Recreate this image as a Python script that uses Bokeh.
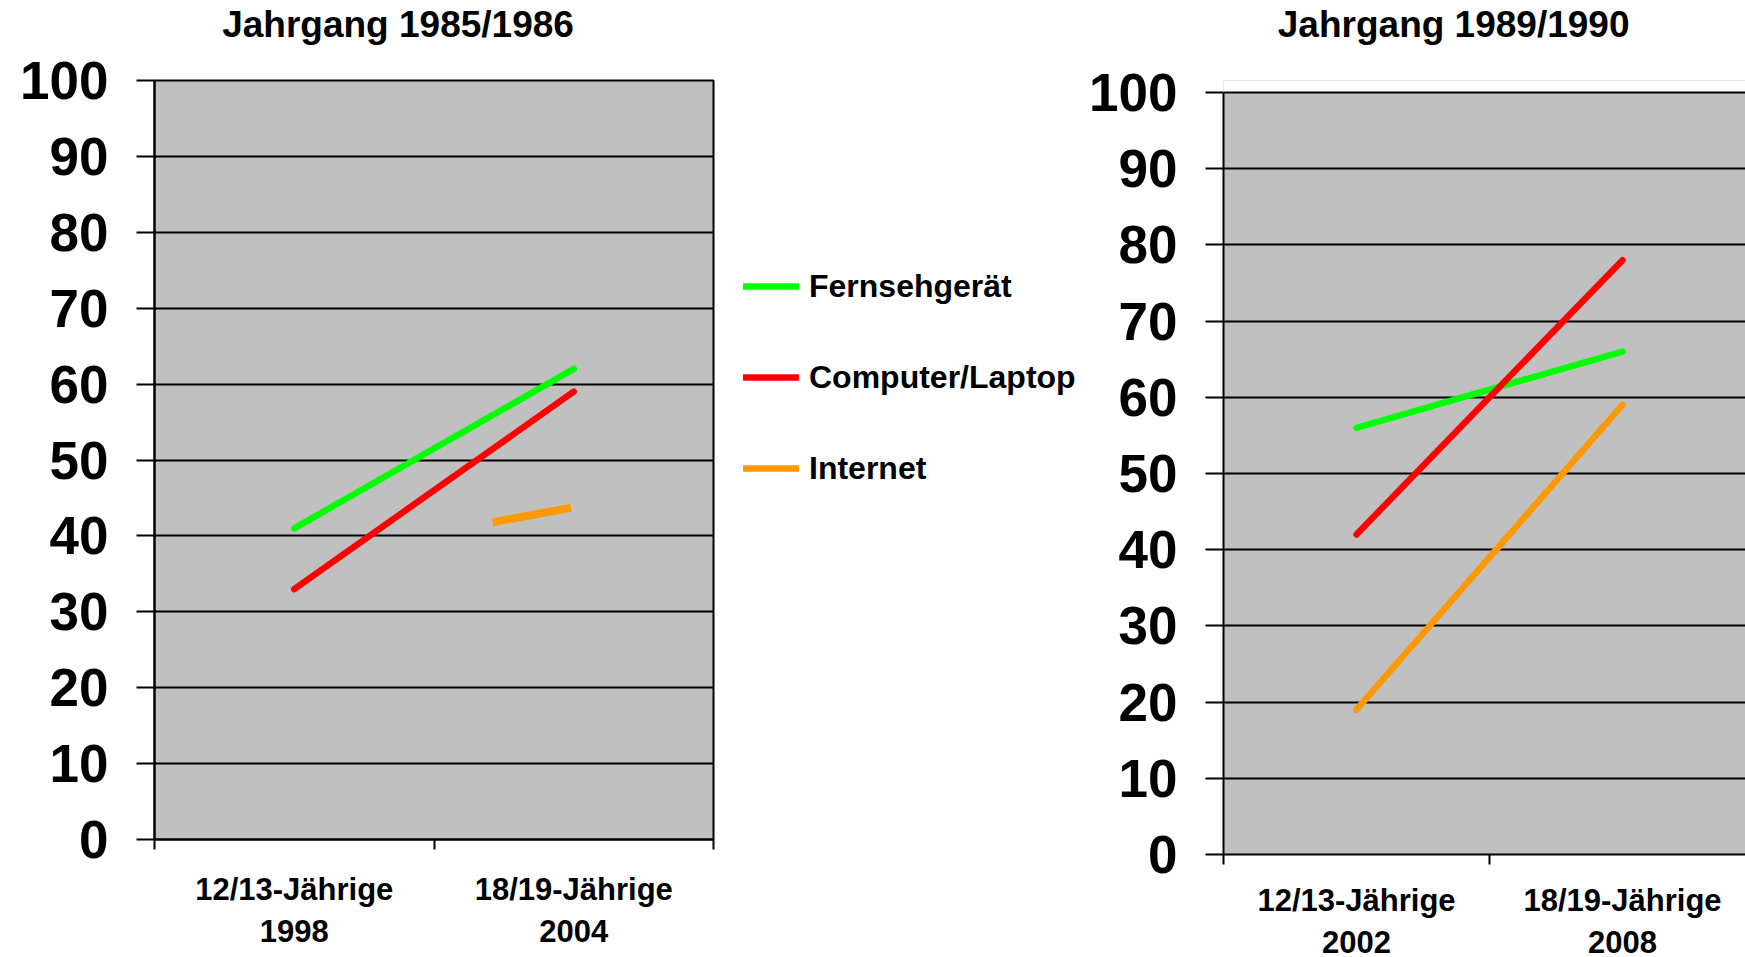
from bokeh.plotting import figure
from bokeh.models import (FixedTicker, Legend, LegendItem, Range1d, BoxAnnotation,
                          LinearAxis)
from bokeh.layouts import row
from bokeh.embed import file_html
from bokeh.resources import INLINE

# ---------------- data ----------------
titles = ["Jahrgang 1985/1986", "Jahrgang 1989/1990"]
cats_left = ["12/13-Jährige\n1998", "18/19-Jährige\n2004"]
cats_right = ["12/13-Jährige\n2002", "18/19-Jährige\n2008"]
series_names = ["Fernsehgerät", "Computer/Laptop", "Internet"]

fernseh_left = [41, 62]
computer_left = [33, 59]
internet_left = [41.8, 43.7]
internet_left_pos = [1.21, 1.49]   # short segment, in category units

fernseh_right = [56, 66]
computer_right = [42, 78]
internet_right = [19, 59]

y_ticks = list(range(0, 101, 10))

GREEN = "#00FF00"
RED = "#FF0000"
ORANGE = "#FF9900"
FONT = "Liberation Sans"
LW = 6.5
TOP = 79  # shared top border (row aligns the plot areas' tops)
NBSP = "\u00a0"


def make_fig(title, cats, frame_w, frame_h, x_end, y_end, mb_left, mb_bottom,
             mb_right, outline, title_pad, x_standoff):
    p = figure(frame_width=frame_w, frame_height=frame_h,
               x_range=Range1d(0, x_end), y_range=Range1d(0, y_end),
               output_backend="svg", toolbar_location=None,
               min_border_left=mb_left, min_border_top=TOP,
               min_border_bottom=mb_bottom, min_border_right=mb_right,
               background_fill_color="#C0C0C0", border_fill_color="white")
    p.title = None

    # chart heading: label of a bare axis above the plot area
    # (trailing no-break spaces move the centred heading slightly to the left)
    head = LinearAxis(ticker=FixedTicker(ticks=[]), axis_label=title + NBSP * title_pad,
                      axis_line_color=None,
                      major_tick_line_color=None, minor_tick_line_color=None,
                      major_tick_out=0, minor_tick_out=0, major_tick_in=0,
                      minor_tick_in=0, major_label_standoff=0,
                      axis_label_standoff=36, axis_label_text_font=FONT,
                      axis_label_text_font_style="bold",
                      axis_label_text_font_size="37px",
                      axis_label_text_color="black")
    p.add_layout(head, "above")

    if outline:
        p.outline_line_color = "black"
        p.outline_line_width = 2
    else:
        p.outline_line_color = None

    centers = [i + 0.5 for i in range(len(cats))]
    xa = p.below[0]
    xa.ticker = FixedTicker(ticks=centers, minor_ticks=list(range(len(cats) + 1)))
    xa.major_label_overrides = {c: lab for c, lab in zip(centers, cats)}
    xa.major_tick_line_color = None
    xa.minor_tick_line_color = "black"
    xa.minor_tick_line_width = 2
    xa.minor_tick_out = 10
    xa.minor_tick_in = 0
    xa.axis_line_width = 2
    xa.major_label_text_font = FONT
    xa.major_label_text_font_style = "bold"
    xa.major_label_text_font_size = "31px"
    xa.major_label_text_color = "black"
    xa.major_label_text_line_height = 1.2
    xa.major_label_standoff = x_standoff
    p.xgrid.grid_line_color = None

    ya = p.left[0]
    ya.ticker = FixedTicker(ticks=y_ticks)
    ya.bounds = (0, 100)
    ya.major_tick_out = 18
    ya.major_tick_in = 0
    ya.major_tick_line_width = 2
    ya.minor_tick_line_color = None
    ya.axis_line_width = 2
    ya.major_label_text_font = FONT
    ya.major_label_text_font_style = "bold"
    ya.major_label_text_font_size = "53px"
    ya.major_label_text_color = "black"
    ya.major_label_standoff = 28
    p.ygrid.grid_line_color = "black"
    p.ygrid.grid_line_width = 2
    p.ygrid.grid_line_alpha = 1.0
    return p, centers


# ---------------- left chart ----------------
left, cl = make_fig(titles[0], cats_left, 559, 759, 2.0, 100, 154, 119, 5,
                    True, 7, 22)
left.line(cl, fernseh_left, line_color=GREEN, line_width=LW, line_cap="round")
left.line(cl, computer_left, line_color=RED, line_width=LW, line_cap="round")
left.line(internet_left_pos, internet_left, line_color=ORANGE, line_width=8,
          line_cap="butt")

# ---------------- legend panel ----------------
leg = figure(frame_width=362, frame_height=594, x_range=Range1d(0, 1),
             y_range=Range1d(0, 1), x_axis_type=None, y_axis_type=None,
             output_backend="svg", toolbar_location=None,
             min_border_left=0, min_border_right=0, min_border_top=TOP,
             min_border_bottom=957 - TOP - 594, outline_line_color=None,
             background_fill_color="white", border_fill_color="white")
leg.title = None
leg.xgrid.grid_line_color = None
leg.ygrid.grid_line_color = None
swatches = []
for col in (GREEN, RED, ORANGE):
    # legend swatches only; their points lie outside the visible range
    swatches.append(leg.line([-2, -1], [-2, -2], line_color=col, line_width=LW,
                             line_cap="round"))
legend = Legend(items=[LegendItem(label=n, renderers=[r])
                       for n, r in zip(series_names, swatches)],
                location="left", orientation="vertical",
                border_line_color=None, background_fill_alpha=0,
                padding=0, margin=25, spacing=51,
                glyph_width=56, glyph_height=40, label_height=40,
                label_standoff=10,
                label_text_font=FONT, label_text_font_style="bold",
                label_text_font_size="32px", label_text_color="black")
leg.add_layout(legend, "center")

# ---------------- right chart ----------------
# plot area top is shared with the left chart; value 100 sits 12 px lower
r_frame_h = 853 - TOP
r_y_end = 100 * r_frame_h / (853 - 91)
right, cr = make_fig(titles[1], cats_right, 522, r_frame_h, 522 / 266, r_y_end,
                     143, 957 - TOP - r_frame_h, 0, False, 6, 18)
right.add_layout(BoxAnnotation(bottom=100.15, fill_color="white", fill_alpha=1.0,
                               line_color=None))
right.line(cr, fernseh_right, line_color=GREEN, line_width=LW, line_cap="round")
right.line(cr, computer_right, line_color=RED, line_width=LW, line_cap="round")
right.line(cr, internet_right, line_color=ORANGE, line_width=LW, line_cap="round")

layout = row(left, leg, right, spacing=0)

open("out.html", "w").write(file_html(layout, INLINE))
